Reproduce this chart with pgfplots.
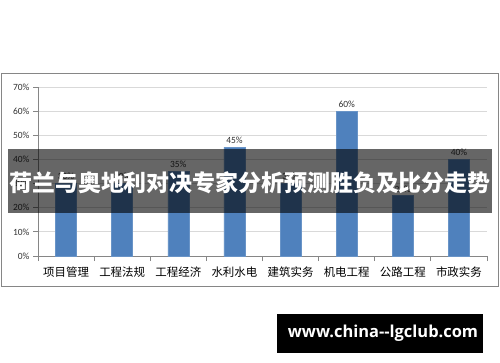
\documentclass[border=0pt]{standalone}
\usepackage{pgfplots}
\pgfplotsset{compat=1.18}
\usepackage{fontspec}
\setmainfont{Carlito}
\newfontfamily\cjk{Noto Sans CJK SC}
\newfontfamily\wm{Open Sans}
\definecolor{barblue}{RGB}{79,129,189}
\definecolor{gridc}{RGB}{217,217,217}
\definecolor{framec}{RGB}{134,134,134}
\definecolor{txtc}{RGB}{50,50,50}
\begin{document}
\begin{tikzpicture}[x=1bp,y=1bp]
\useasboundingbox (0,0) rectangle (500,362);
\fill[white] (0,0) rectangle (500,362);
\draw[framec, line width=1bp] (1.5,76) rectangle (498,289);
\begin{axis}[
  at={(38bp,106bp)}, anchor=south west,
  width=449bp, height=169bp, scale only axis,
  xmin=-0.5, xmax=7.5, ymin=0, ymax=70,
  axis x line*=bottom, axis y line*=left,
  axis line style={framec, -, line width=0.8bp},
  ytick={0,10,...,70},
  yticklabel={\pgfmathprintnumber{\tick}\%},
  yticklabel style={font=\fontsize{9.5}{10}\selectfont, text=txtc},
  /pgf/number format/assume math mode=true,
  ymajorgrids, grid style={gridc, line width=1bp},
  xtick={0,...,7},
  xticklabels={项目管理,工程法规,工程经济,水利水电,建筑实务,机电工程,公路工程,市政实务},
  xticklabel style={font=\cjk\fontsize{11.5}{12}\selectfont, text=black, yshift=-2bp},
  major x tick style={draw=none},
  minor xtick={-0.5,0.5,...,7.5},
  tick align=outside,
  major tick length=5bp, minor tick length=5bp,
  every tick/.style={framec, line width=0.8bp},
  clip=false,
]
\addplot[ybar, bar width=21bp, fill=barblue, draw=barblue!85!white,
  nodes near coords={\pgfmathprintnumber{\pgfplotspointmeta}\%},
  every node near coord/.append style={font=\fontsize{9.5}{10}\selectfont, text=txtc, /pgf/number format/assume math mode=true}]
  coordinates {(0,30)(1,30)(2,35)(3,45)(4,30)(5,60)(6,25)(7,40)};
\end{axis}
\fill[black, opacity=0.6] (8,149) rectangle (492,213);
\node[white, font=\cjk\bfseries\fontsize{23}{23}\selectfont, inner sep=0] at (250,179.5) {荷兰与奥地利对决专家分析预测胜负及比分走势};
\fill[black] (277,9) rectangle (483,48);
\node[white, font=\wm\bfseries\fontsize{16.5}{16.5}\selectfont, inner sep=0] at (383,29) {www.china-{}-lgclub.com};
\end{tikzpicture}
\end{document}
